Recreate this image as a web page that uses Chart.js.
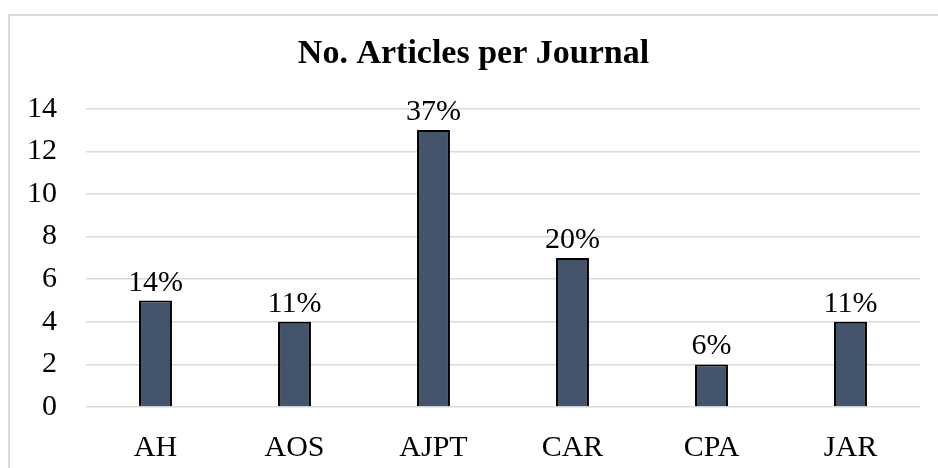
<!DOCTYPE html>
<html>
<head>
<meta charset="utf-8">
<script src="https://cdn.jsdelivr.net/npm/chart.js@4/dist/chart.umd.min.js"></script>
<style>
  html, body { margin: 0; padding: 0; background: #fff; overflow: hidden; }
  #wrap { position: relative; width: 938px; height: 468px; overflow: hidden; }
  #frame { position: absolute; left: 8px; top: 14px; width: 1000px; height: 1000px;
           border: 2px solid #d9d9d9; box-sizing: border-box; }
  canvas { position: absolute; left: 0; top: 0; }
</style>
</head>
<body>
<div id="wrap">
  <div id="frame"></div>
  <canvas id="chart" width="938" height="468"></canvas>
</div>
<script>
const journals = ['AH', 'AOS', 'AJPT', 'CAR', 'CPA', 'JAR'];
const articleCounts = [5, 4, 13, 7, 2, 4];
const yTicks = [0, 2, 4, 6, 8, 10, 12, 14];

const SERIF = '"Liberation Serif", "Times New Roman", Times, serif';
const total = articleCounts.reduce((a, b) => a + b, 0);

// Share of all articles, written above each bar
const shareLabels = {
  id: 'shareLabels',
  afterDatasetsDraw(chart) {
    const ctx = chart.ctx;
    const meta = chart.getDatasetMeta(0);
    ctx.save();
    ctx.font = '30px ' + SERIF;
    ctx.fillStyle = '#000';
    ctx.textAlign = 'center';
    ctx.textBaseline = 'alphabetic';
    meta.data.forEach((bar, i) => {
      const pct = Math.round(articleCounts[i] / total * 100) + '%';
      ctx.fillText(pct, bar.x, bar.y - 10);
    });
    ctx.restore();
  }
};

new Chart(document.getElementById('chart'), {
  type: 'bar',
  data: {
    labels: journals,
    datasets: [{
      data: articleCounts,
      backgroundColor: '#44546a',
      borderColor: '#000000',
      borderWidth: 2,
      barPercentage: 0.237,
      categoryPercentage: 1
    }]
  },
  options: {
    responsive: false,
    animation: false,
    layout: { padding: { left: 27, right: 18, top: 0, bottom: 0 } },
    plugins: {
      legend: { display: false },
      tooltip: { enabled: false },
      title: {
        display: true,
        text: 'No. Articles per Journal',
        color: '#000',
        font: { family: SERIF, size: 34, weight: 'bold' },
        padding: { top: 34, bottom: 34 }
      }
    },
    scales: {
      x: {
        grid: { display: false },
        border: { display: false },
        ticks: { color: '#000', font: { family: SERIF, size: 30 }, padding: 15 },
        afterFit(scale) { scale.height = 61; }
      },
      y: {
        min: 0,
        max: 14,
        afterBuildTicks(scale) { scale.ticks = yTicks.map(v => ({ value: v })); },
        grid: { color: '#d9d9d9', lineWidth: 1.5, drawTicks: false },
        border: { display: false },
        ticks: { color: '#000', font: { family: SERIF, size: 30 }, padding: 29 },
        afterFit(scale) { scale.width = 59; }
      }
    }
  },
  plugins: [shareLabels]
});
</script>
</body>
</html>
